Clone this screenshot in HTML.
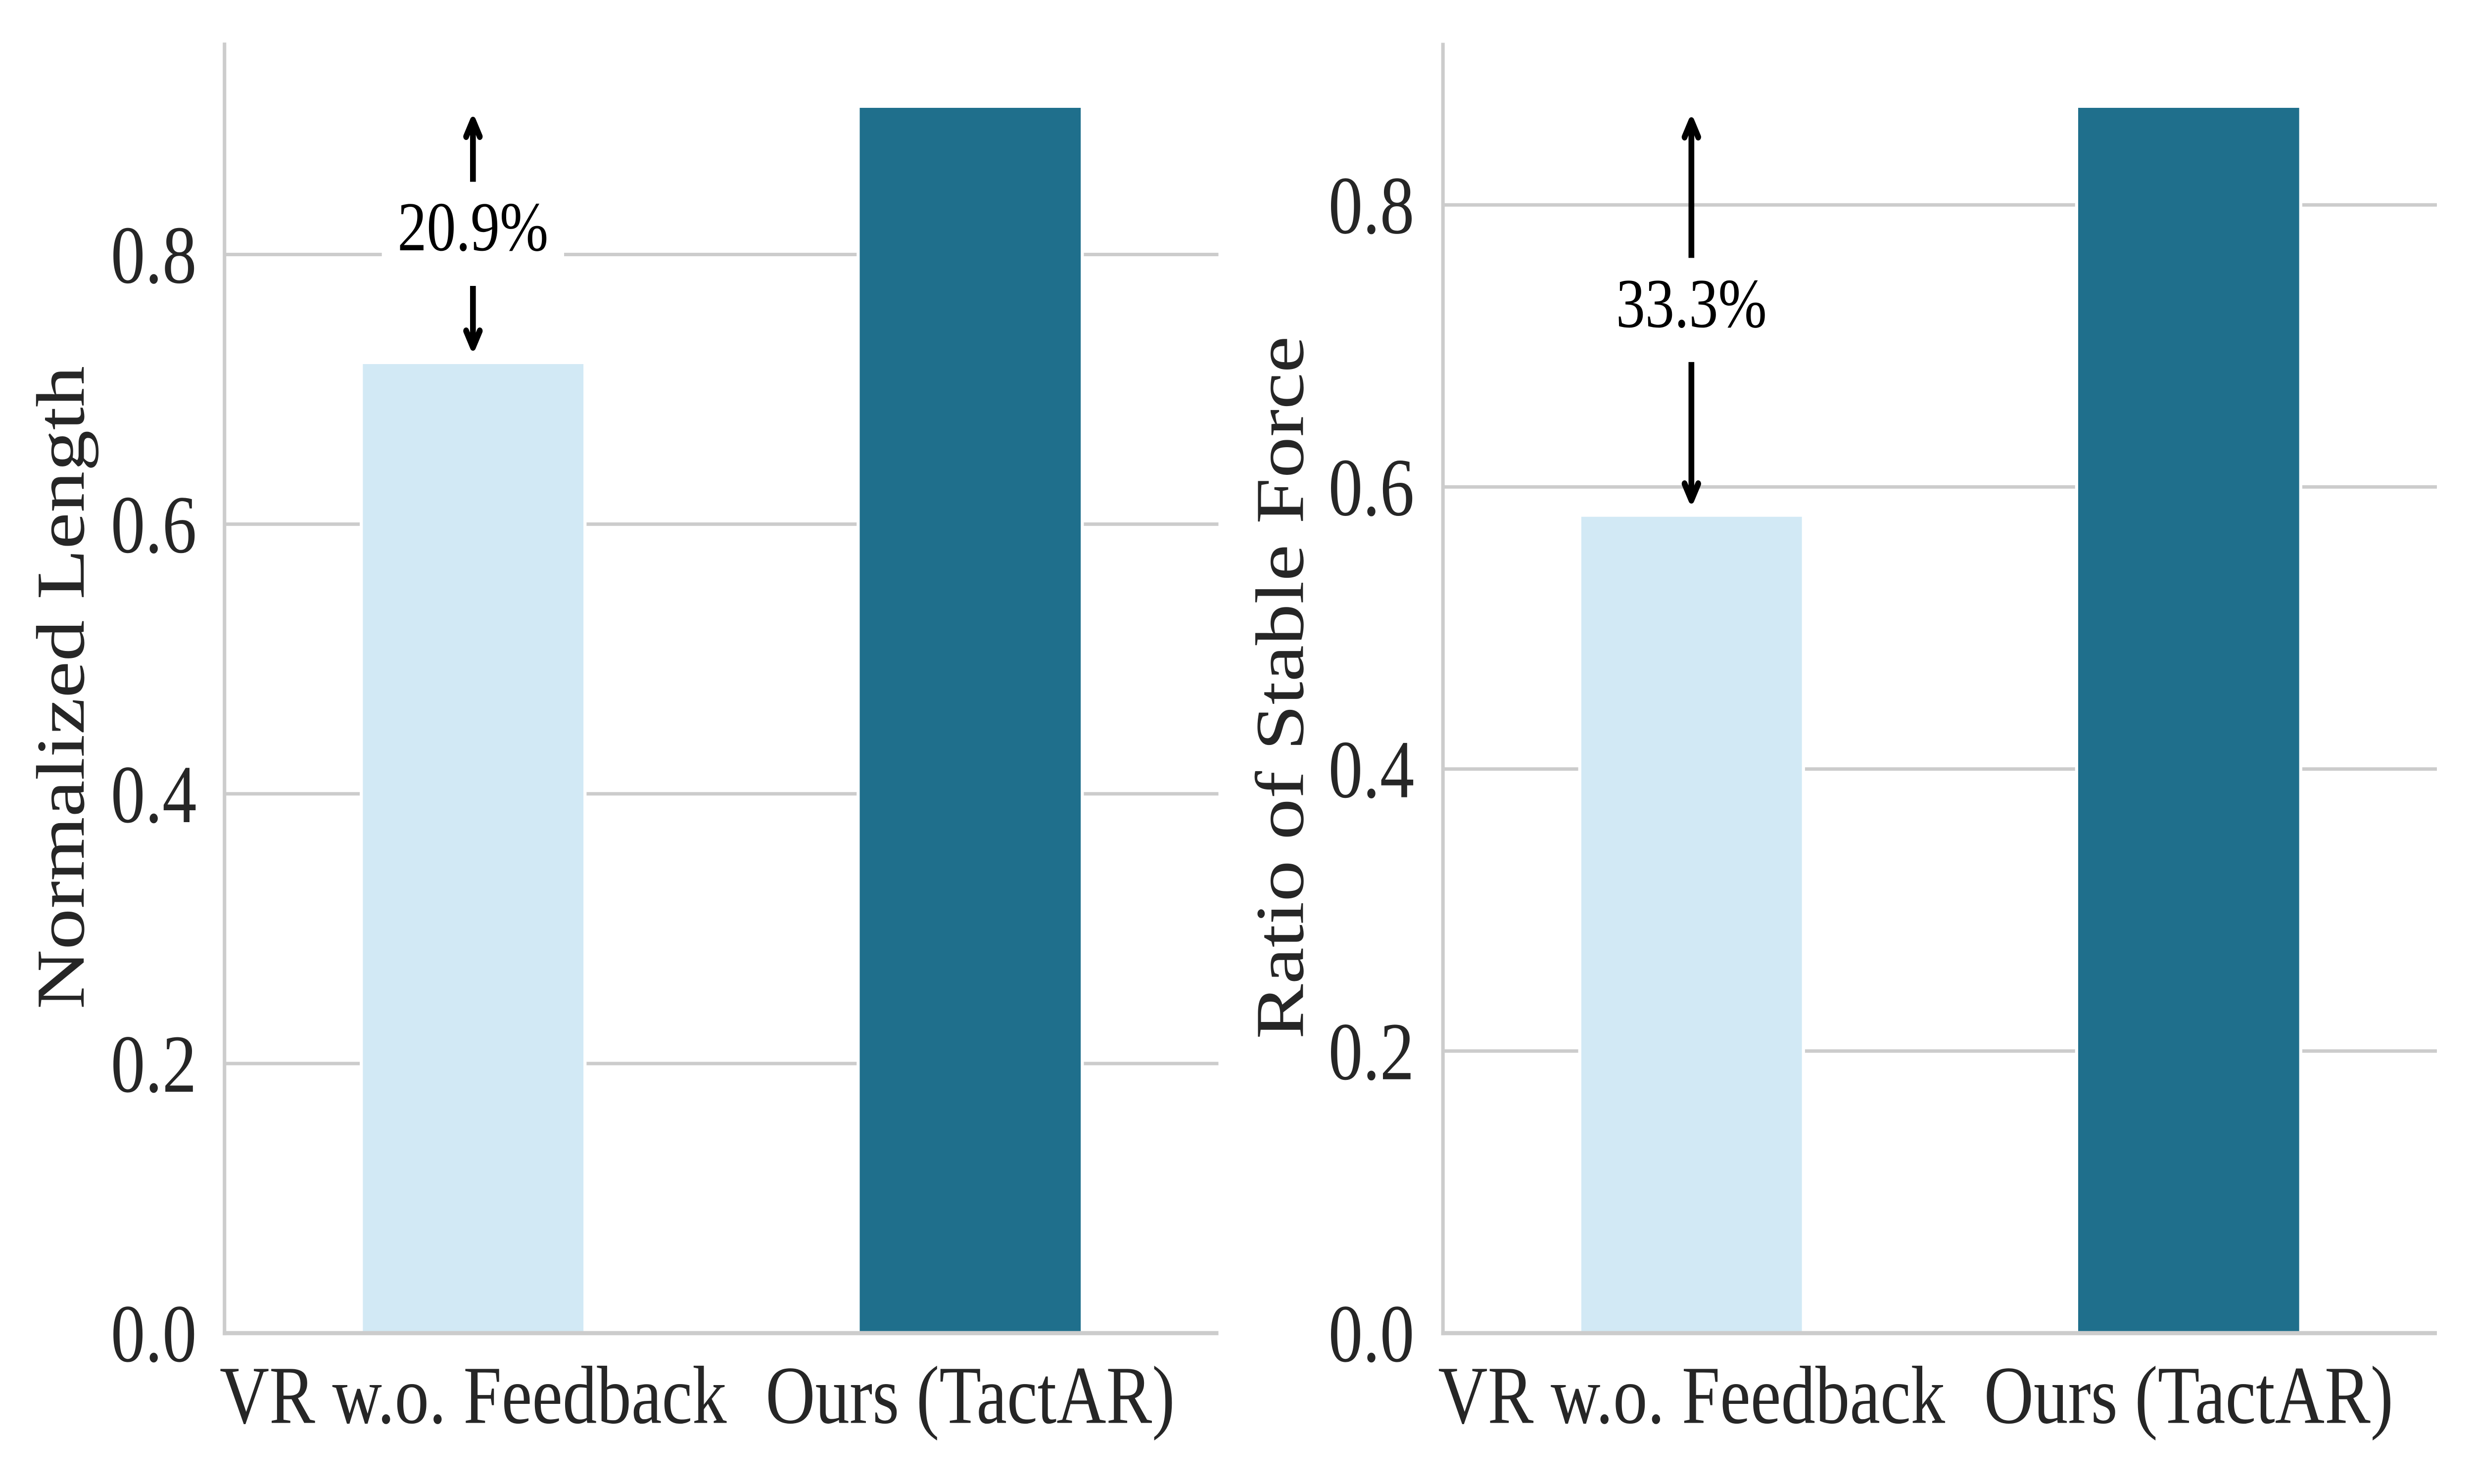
<!DOCTYPE html>
<html>
<head>
<meta charset="utf-8">
<style>
  html, body { margin: 0; padding: 0; background: #ffffff; width: 6000px; height: 3000px; overflow: hidden; }
  svg { position: absolute; left: 0; top: 0; display: block; width: 100vw; height: 100vh; }
  text { font-family: "Liberation Serif", "Times New Roman", serif; }
</style>
</head>
<body>
<svg viewBox="0 0 6000 3000" preserveAspectRatio="none" xmlns="http://www.w3.org/2000/svg">
  <rect x="0" y="0" width="6000" height="3000" fill="#ffffff"/>

  <!-- ================= LEFT PANEL ================= -->
  <g stroke="#cccccc" stroke-width="7">
    <line x1="544.5" y1="2150" x2="2955" y2="2150"/>
    <line x1="544.5" y1="1604.8" x2="2955" y2="1604.8"/>
    <line x1="544.5" y1="1059.6" x2="2955" y2="1059.6"/>
    <line x1="544.5" y1="514.5" x2="2955" y2="514.5"/>
  </g>
  <rect x="872.5" y="728.5" width="550" height="1966.5" fill="#ffffff"/>
  <rect x="2077.5" y="210.5" width="551" height="2484.5" fill="#ffffff"/>
  <rect x="880" y="736" width="535" height="1959" fill="#d2e9f5"/>
  <rect x="2085" y="218" width="536" height="2477" fill="#1f6f8c"/>
  <rect x="926" y="367.5" width="442" height="210.5" fill="#ffffff"/>
  <g stroke="#000000" stroke-width="14" fill="none">
    <line x1="1147" y1="367.5" x2="1147" y2="246" stroke-linecap="butt"/>
    <polyline points="1130.5,276 1147,243 1163.5,276" stroke-linecap="round" stroke-linejoin="round"/>
    <line x1="1147" y1="578" x2="1147" y2="699" stroke-linecap="butt"/>
    <polyline points="1130.5,669 1147,702 1163.5,669" stroke-linecap="round" stroke-linejoin="round"/>
  </g>
  <text x="1147" y="506" font-size="141.67" fill="#000000" text-anchor="middle">20.9%</text>
  <g stroke="#cccccc" stroke-width="8.5">
    <line x1="544.5" y1="86" x2="544.5" y2="2699.25"/>
    <line x1="540.25" y1="2695" x2="2955" y2="2695"/>
  </g>
  <g font-size="166.67" fill="#262626" text-anchor="end">
    <text x="477" y="2752">0.0</text>
    <text x="477" y="2207">0.2</text>
    <text x="477" y="1662">0.4</text>
    <text x="477" y="1116.6">0.6</text>
    <text x="477" y="571.5">0.8</text>
  </g>
  <g font-size="166.67" fill="#262626" text-anchor="middle">
    <text x="1147.5" y="2876.5">VR w.o. Feedback</text>
    <text x="2353" y="2876.5">Ours (TactAR)</text>
  </g>
  <text transform="translate(203,1390) rotate(-90)" font-size="166.67" fill="#262626" text-anchor="middle">Normalized Length</text>

  <!-- ================= RIGHT PANEL ================= -->
  <g stroke="#cccccc" stroke-width="7">
    <line x1="3499.5" y1="2124.8" x2="5910" y2="2124.8"/>
    <line x1="3499.5" y1="1554.6" x2="5910" y2="1554.6"/>
    <line x1="3499.5" y1="984.4" x2="5910" y2="984.4"/>
    <line x1="3499.5" y1="414.2" x2="5910" y2="414.2"/>
  </g>
  <rect x="3827.5" y="1037.2" width="550" height="1657.8" fill="#ffffff"/>
  <rect x="5032.5" y="210.5" width="551" height="2484.5" fill="#ffffff"/>
  <rect x="3835" y="1044.7" width="535" height="1650.3" fill="#d2e9f5"/>
  <rect x="5040" y="218" width="536" height="2477" fill="#1f6f8c"/>
  <g stroke="#000000" stroke-width="14" fill="none">
    <line x1="4102" y1="521.4" x2="4102" y2="247" stroke-linecap="butt"/>
    <polyline points="4085.5,277 4102,244 4118.5,277" stroke-linecap="round" stroke-linejoin="round"/>
    <line x1="4102" y1="731.9" x2="4102" y2="1008" stroke-linecap="butt"/>
    <polyline points="4085.5,978 4102,1011 4118.5,978" stroke-linecap="round" stroke-linejoin="round"/>
  </g>
  <text x="4102" y="661" font-size="141.67" fill="#000000" text-anchor="middle">33.3%</text>
  <g stroke="#cccccc" stroke-width="8.5">
    <line x1="3499.5" y1="86.5" x2="3499.5" y2="2699.25"/>
    <line x1="3495.25" y1="2695" x2="5910" y2="2695"/>
  </g>
  <g font-size="166.67" fill="#262626" text-anchor="end">
    <text x="3430" y="2752">0.0</text>
    <text x="3430" y="2181.8">0.2</text>
    <text x="3430" y="1611.6">0.4</text>
    <text x="3430" y="1041.4">0.6</text>
    <text x="3430" y="471.2">0.8</text>
  </g>
  <g font-size="166.67" fill="#262626" text-anchor="middle">
    <text x="4102.5" y="2876.5">VR w.o. Feedback</text>
    <text x="5308" y="2876.5">Ours (TactAR)</text>
  </g>
  <text transform="translate(3160,1390) rotate(-90)" font-size="166.67" fill="#262626" text-anchor="middle">Ratio of Stable Force</text>
</svg>
</body>
</html>
